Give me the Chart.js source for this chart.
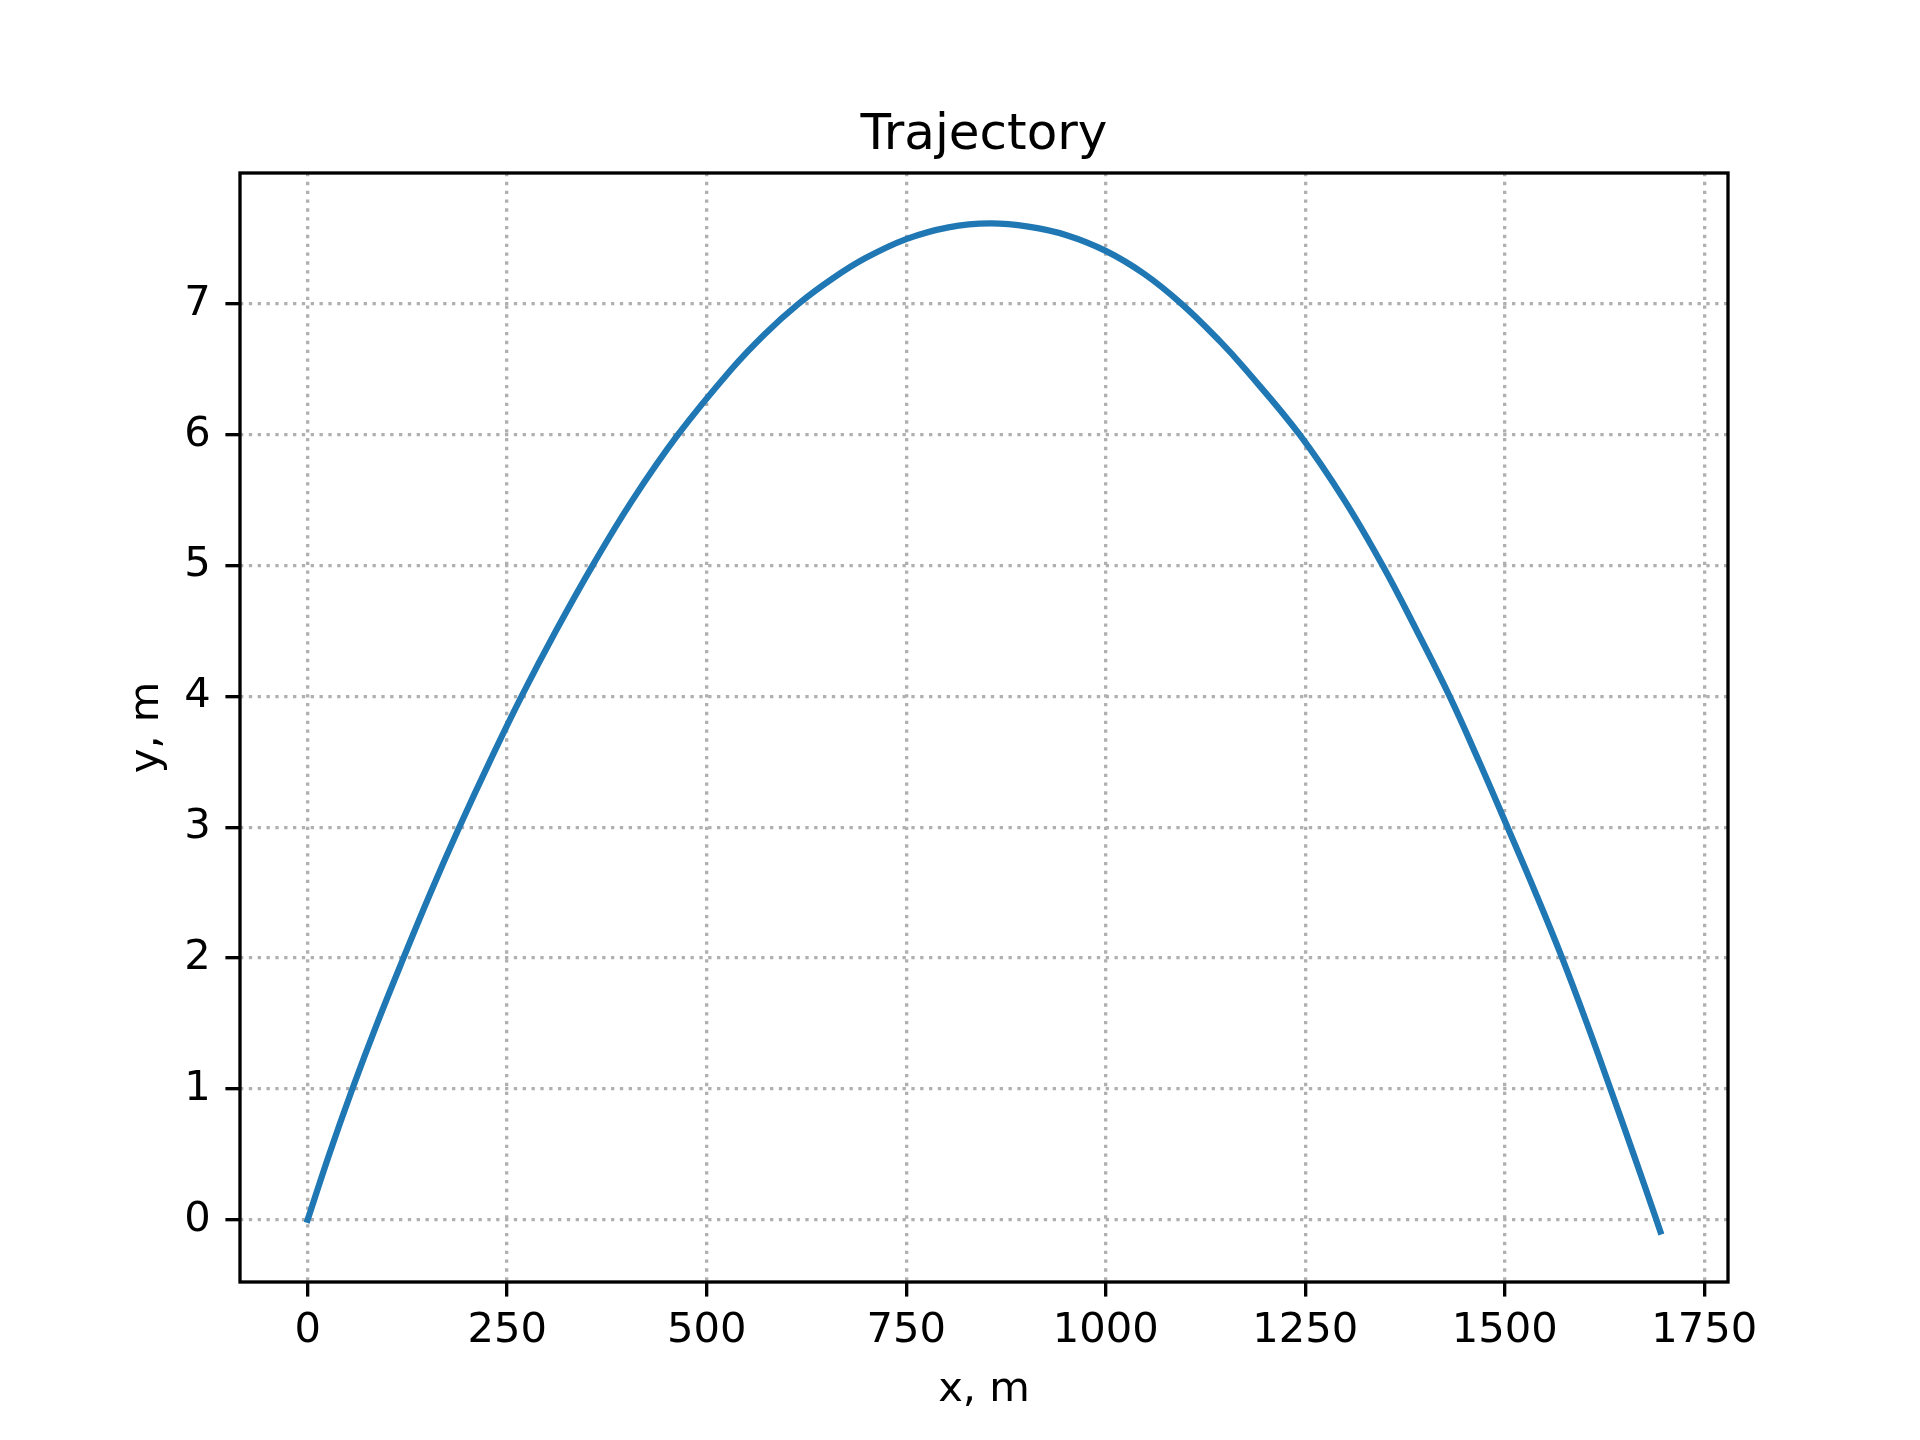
<!DOCTYPE html>
<html>
<head>
<meta charset="utf-8">
<title>Trajectory</title>
<script src="https://cdn.jsdelivr.net/npm/chart.js@4.4.0/dist/chart.umd.min.js"></script>
<style>
  html, body { margin: 0; padding: 0; background: #fff; }
  #wrap { width: 1920px; height: 1440px; }
</style>
</head>
<body>
<div id="wrap"><canvas id="chart" width="1920" height="1440"></canvas></div>
<script>
// distance (m) and height (m)
const xValues = [0, 27, 56, 87, 120, 154, 190, 228, 268, 311, 357, 407, 464, 531, 573, 615, 658, 699, 750, 803, 855,
                 903, 951, 1000, 1048, 1095, 1143, 1175, 1243, 1299, 1347, 1390, 1431, 1468, 1503.5, 1538.5, 1572, 1603, 1632.5, 1661.5, 1690, 1695];
const yValues = [0, 0.5, 1, 1.5, 2, 2.5, 3, 3.5, 4, 4.5, 5, 5.5, 6, 6.5, 6.77, 7, 7.195, 7.35, 7.495, 7.585, 7.615,
                 7.59, 7.525, 7.405, 7.23, 7, 6.715, 6.5, 6, 5.5, 5, 4.5, 4, 3.5, 3, 2.5, 2, 1.5, 1, 0.5, 0, -0.09];

const xTicks = [0, 250, 500, 750, 1000, 1250, 1500, 1750];
const xTickLabels = ['0', '250', '500', '750', '1000', '1250', '1500', '1750'];
const yTicks = [0, 1, 2, 3, 4, 5, 6, 7];
const yTickLabels = ['0', '1', '2', '3', '4', '5', '6', '7'];

const PT = 300 / 72; // points -> px at 300 dpi

// 5% margins like matplotlib autoscale
function padded(vals) {
  let lo = Math.min(...vals), hi = Math.max(...vals);
  let m = (hi - lo) * 0.05;
  return [lo - m, hi + m];
}
const [xMin, xMax] = padded(xValues);
const [yMin, yMax] = padded(yValues);

Chart.defaults.font.family = "'DejaVu Sans', sans-serif";
Chart.defaults.color = '#000';

// the four spines drawn on top
const frame = {
  id: 'frame',
  afterDraw(chart) {
    const ctx = chart.ctx, a = chart.chartArea;
    ctx.save();
    ctx.strokeStyle = '#000';
    ctx.lineWidth = 0.8 * PT;
    ctx.lineJoin = 'miter';
    ctx.strokeRect(a.left, a.top, a.right - a.left, a.bottom - a.top);
    ctx.restore();
  }
};

const gridOpts = {
  color: '#b0b0b0',
  lineWidth: 0.8 * PT,
  tickColor: '#000',
  tickWidth: 0.8 * PT,
  tickLength: 3.5 * PT,
  tickBorderDash: []
};
const borderOpts = { display: false, dash: [0.8 * PT, 1.32 * PT] };

new Chart(document.getElementById('chart'), {
  type: 'scatter',
  data: {
    datasets: [{
      data: xValues.map((x, i) => ({ x: x, y: yValues[i] })),
      showLine: true,
      borderColor: '#1f77b4',
      borderWidth: 1.5 * PT,
      borderCapStyle: 'square',
      borderJoinStyle: 'round',
      pointRadius: 0,
      tension: 0.4
    }]
  },
  options: {
    responsive: false,
    animation: false,
    devicePixelRatio: 1,
    layout: { padding: { left: 0, right: 192, top: 0, bottom: 0 } },
    plugins: {
      legend: { display: false },
      tooltip: { enabled: false },
      title: {
        display: true,
        text: 'Trajectory',
        fullSize: false,
        color: '#000',
        font: { size: 12 * PT, weight: 'normal' },
        padding: { top: 106, bottom: 7 }
      }
    },
    scales: {
      x: {
        type: 'linear',
        bounds: 'data',
        min: xMin,
        max: xMax,
        afterBuildTicks: s => { s.ticks = xTicks.map(v => ({ value: v })); },
        afterFit: s => { s.height = 158; s.paddingLeft = 0; s.paddingRight = 0; },
        ticks: {
          callback: (v, i) => xTickLabels[i],
          autoSkip: false,
          maxRotation: 0,
          font: { size: 10 * PT },
          padding: 10
        },
        grid: gridOpts,
        border: borderOpts,
        title: {
          display: true,
          text: 'x, m',
          font: { size: 10 * PT },
          padding: { top: 0, bottom: 24.5 }
        }
      },
      y: {
        type: 'linear',
        bounds: 'data',
        min: yMin,
        max: yMax,
        afterBuildTicks: s => { s.ticks = yTicks.map(v => ({ value: v })); },
        afterFit: s => { s.width = 240; s.paddingTop = 0; s.paddingBottom = 0; },
        ticks: {
          callback: (v, i) => yTickLabels[i],
          autoSkip: false,
          font: { size: 10 * PT },
          padding: 3.5 * PT
        },
        grid: gridOpts,
        border: borderOpts,
        title: {
          display: true,
          text: 'y, m',
          font: { size: 10 * PT },
          padding: { top: 122, bottom: 0 }
        }
      }
    }
  },
  plugins: [frame]
});
</script>
</body>
</html>
